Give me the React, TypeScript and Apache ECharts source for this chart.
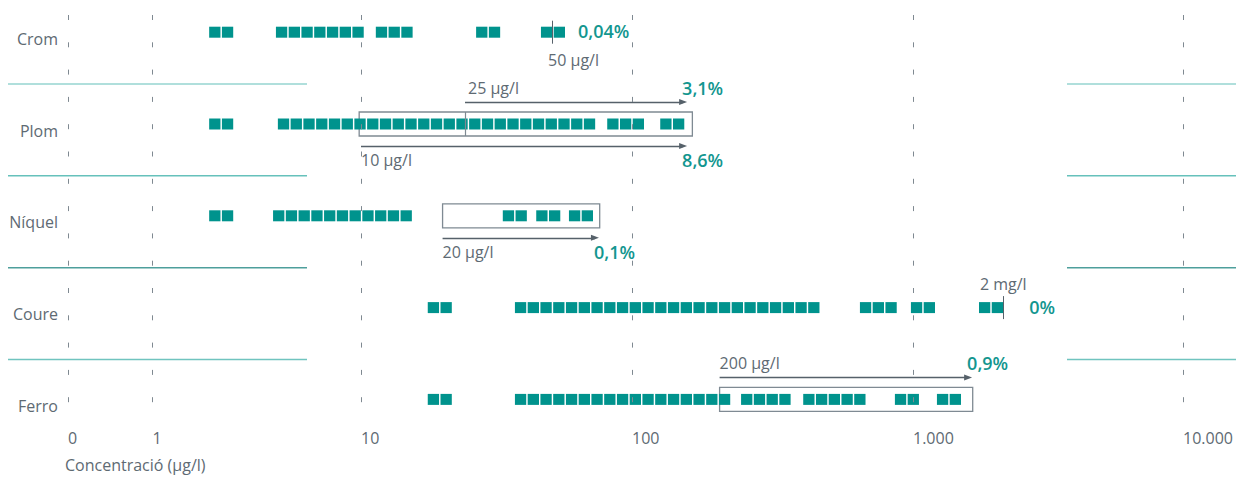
import React, { useEffect, useRef } from 'react';
import * as echarts from 'echarts';

// ---------- data ----------
const ROWS = ['Crom', 'Plom', 'Níquel', 'Coure', 'Ferro'];
const TICK_VALUES = [0, 1, 10, 100, 1000, 10000];
const TICK_LABELS = ['0', '1', '10', '100', '1.000', '10.000'];
const X_TITLE = 'Concentració (µg/l)';

// runs of adjacent squares: [concentration of first square (µg/l), number of squares]
const CROM_RUNS = [[1.99, 2], [4.16, 7], [11.9, 3], [27.9, 2], [48.4, 2]];
const PLOM_RUNS = [[1.99, 2], [4.25, 25], [85, 3], [132, 2]];
const NIQUEL_RUNS = [[1.99, 2], [4.03, 11], [35, 2], [46.5, 2], [61.4, 2]];
const COURE_RUNS = [[18.5, 2], [38.8, 24], [678, 3], [1031, 2], [1842, 2]];
const FERRO_RUNS = [[18.5, 2], [38.8, 17], [256, 4], [426, 5], [903, 2], [1287, 2]];
const ALL_RUNS = [CROM_RUNS, PLOM_RUNS, NIQUEL_RUNS, COURE_RUNS, FERRO_RUNS];

// single limit markers
const MARKER_ROWS = [0, 3];
const MARKER_VALUES = [50.7, 2160];
const MARKER_LABELS = ['50 µg/l', '2 mg/l'];
const MARKER_PCTS = ['0,04%', '0%'];

// limit arrows
const ARROW_ROWS = [1, 1, 2, 4];
const ARROW_FROM = [24.2, 10, 20, 205];
const ARROW_TO = [152, 152, 73, 1600];
const ARROW_LABELS = ['25 µg/l', '10 µg/l', '20 µg/l', '200 µg/l'];
const ARROW_PCTS = ['3,1%', '8,6%', '0,1%', '0,9%'];

// boxes around exceeding samples
const BOX_ROWS = [1, 2, 4];
const BOX_FROM = [9.8, 20, 205];
const BOX_TO = [164, 76, 1664];
const DIVIDER_ROWS = [1];
const DIVIDER_VALUES = [24.2];

// ---------- layout / style ----------
const TICK_U = [0, 84.5, 293, 564, 845, 1115]; // tick positions on the piecewise-log scale
const X_MAX = 1168;
const GRID_TOP = 15;
const GRID_BOTTOM_PX = 424;
const Y_MIN = -0.1874;
const Y_MAX = 4.268;
const PX_PER_ROW = (GRID_BOTTOM_PX - GRID_TOP) / (Y_MAX - Y_MIN);
const PITCH = 12.75;
const SQUARE: [number, number] = [11.3, 11];
const ARROW_SIDE = [-1, 1, 1, -1];
const MARKER_LABEL_MODE = ['below', 'above'];

const FONT = "'Open Sans', 'Noto Sans', sans-serif";
const TEAL = '#00938d';
const PCT_COLOR = '#13968f';
const GRAY_TEXT = '#5e6a73';
const DASH_COLOR = '#7f8991';
const BOX_COLOR = '#7f8a93';
const ARROW_COLOR = '#56616a';
const SEP_COLORS = ['#96d5d1', '#66c1bb', '#4e9f9c', '#70c4bf'];

function toU(c: number): number {
  if (c <= TICK_VALUES[1]) return (c / TICK_VALUES[1]) * TICK_U[1];
  let k = 1;
  while (k < TICK_VALUES.length - 2 && c > TICK_VALUES[k + 1]) k++;
  const a = Math.log10(TICK_VALUES[k]);
  const b = Math.log10(TICK_VALUES[k + 1]);
  return TICK_U[k] + ((TICK_U[k + 1] - TICK_U[k]) * (Math.log10(c) - a)) / (b - a);
}
const rows = (px: number) => px / PX_PER_ROW;

export default function App() {
  const ref = useRef<HTMLDivElement>(null);
  useEffect(() => {
    document.body.style.margin = '0';
    const chart = echarts.init(ref.current!, null, { renderer: 'svg' });

    const series: any[] = ALL_RUNS.map((runs, r) => {
      const data: number[][] = [];
      runs.forEach(([start, n]) => {
        for (let j = 0; j < n; j++) data.push([toU(start) + j * PITCH, r]);
      });
      const lines: any[] = [];
      const areas: any[] = [];
      if (r === 0) {
        TICK_VALUES.forEach((t) =>
          lines.push({
            xAxis: toU(t),
            lineStyle: { color: DASH_COLOR, width: 1, type: [5, 22.3] },
          })
        );
      }
      MARKER_ROWS.forEach((mr, i) => {
        if (mr !== r) return;
        const u = toU(MARKER_VALUES[i]);
        lines.push([
          { coord: [u, r - rows(11.5)], symbol: 'none', lineStyle: { color: ARROW_COLOR, width: 1, type: 'solid' } },
          { coord: [u, r + rows(11.5)], symbol: 'none' },
        ]);
      });
      DIVIDER_ROWS.forEach((dr, i) => {
        if (dr !== r) return;
        const u = toU(DIVIDER_VALUES[i]);
        lines.push([
          { coord: [u, r - rows(12)], symbol: 'none', lineStyle: { color: BOX_COLOR, width: 1.2, type: 'solid' } },
          { coord: [u, r + rows(12)], symbol: 'none' },
        ]);
      });
      ARROW_ROWS.forEach((ar, i) => {
        if (ar !== r) return;
        const y = r + ARROW_SIDE[i] * rows(22);
        lines.push([
          { coord: [toU(ARROW_FROM[i]), y], symbol: 'none', lineStyle: { color: ARROW_COLOR, width: 1.3, type: 'solid' } },
          { coord: [toU(ARROW_TO[i]), y], symbol: 'triangle', symbolSize: [6, 8] },
        ]);
      });
      BOX_ROWS.forEach((br, i) => {
        if (br !== r) return;
        areas.push([
          { coord: [toU(BOX_FROM[i]), r - rows(12)] },
          { coord: [toU(BOX_TO[i]), r + rows(12)] },
        ]);
      });
      return {
        type: 'scatter',
        name: ROWS[r],
        data,
        symbol: 'rect',
        symbolSize: SQUARE,
        itemStyle: { color: TEAL, opacity: 1 },
        silent: true,
        markLine: {
          silent: true,
          symbol: 'none',
          label: { show: false },
          emphasis: { disabled: true },
          itemStyle: { color: ARROW_COLOR },
          data: lines,
        },
        markArea: {
          silent: true,
          label: { show: false },
          itemStyle: { color: 'rgba(0,0,0,0)', borderColor: BOX_COLOR, borderWidth: 1.3 },
          emphasis: { disabled: true },
          data: areas,
        },
      };
    });

    chart.setOption({
      animation: false,
      grid: { left: 68, right: 0, top: GRID_TOP, bottom: 478 - GRID_BOTTOM_PX, containLabel: false },
      xAxis: {
        type: 'value',
        min: 0,
        max: X_MAX,
        axisLine: { show: false },
        axisTick: { show: false },
        splitLine: { show: false },
        axisLabel: {
          customValues: TICK_VALUES.map(toU),
          formatter: (v: number) => {
            let best = 0;
            TICK_VALUES.forEach((t, i) => {
              if (Math.abs(toU(t) - v) < Math.abs(toU(TICK_VALUES[best]) - v)) best = i;
            });
            return TICK_LABELS[best];
          },
          align: 'left',
          margin: 6,
          fontSize: 16,
          lineHeight: 16,
          fontFamily: FONT,
          color: GRAY_TEXT,
        },
      },
      yAxis: {
        type: 'value',
        inverse: true,
        min: Y_MIN,
        max: Y_MAX,
        axisLine: { show: false },
        axisTick: { show: false },
        splitLine: { show: false },
        axisLabel: {
          customValues: ROWS.map((_, i) => i),
          formatter: (v: number) => ROWS[Math.round(v)] ?? '',
          margin: 10,
          verticalAlign: 'top',
          lineHeight: 13,
          fontSize: 16,
          fontFamily: FONT,
          color: GRAY_TEXT,
        },
      },
      series,
    });

    const toPx = (c: number, y: number) =>
      chart.convertToPixel({ gridIndex: 0 } as any, [toU(c), y]) as number[];
    const text = (str: string, x: number, y: number, color: string, size: number, weight: any, align = 'left') => ({
      type: 'text',
      x,
      y,
      silent: true,
      style: {
        text: str,
        fill: color,
        fontSize: size,
        fontWeight: weight,
        fontFamily: FONT,
        textAlign: align,
        textVerticalAlign: 'middle',
        align,
        verticalAlign: 'middle',
      },
    });

    const graphics: any[] = [];
    MARKER_ROWS.forEach((r, i) => {
      const [x, y] = toPx(MARKER_VALUES[i], r);
      if (MARKER_LABEL_MODE[i] === 'below') graphics.push(text(MARKER_LABELS[i], x - 4, y + 28, GRAY_TEXT, 16, 'normal'));
      else graphics.push(text(MARKER_LABELS[i], x, y - 24, GRAY_TEXT, 16, 'normal', 'center'));
      graphics.push(text(MARKER_PCTS[i], x + 26, y - 1, PCT_COLOR, 18, 600));
    });
    ARROW_ROWS.forEach((r, i) => {
      const ay = r + ARROW_SIDE[i] * rows(22);
      const [x1, y1] = toPx(ARROW_FROM[i], ay);
      const [x2] = toPx(ARROW_TO[i], ay);
      const ty = y1 + ARROW_SIDE[i] * 14;
      graphics.push(text(ARROW_LABELS[i], x1 + (i === 0 ? 3 : 0), ty, GRAY_TEXT, 16, 'normal'));
      graphics.push(text(ARROW_PCTS[i], x2 - 1, ty, PCT_COLOR, 18, 600));
    });
    for (let i = 0; i < ROWS.length - 1; i++) {
      const [, y] = toPx(1, i + 0.565);
      graphics.push({
        type: 'line',
        silent: true,
        shape: { x1: 8, y1: y, x2: 307, y2: y },
        style: { stroke: SEP_COLORS[i], lineWidth: 1.5 },
      });
      graphics.push({
        type: 'line',
        silent: true,
        shape: { x1: 1067, y1: y, x2: 1236, y2: y },
        style: { stroke: SEP_COLORS[i], lineWidth: 1.5 },
      });
    }
    graphics.push(text(X_TITLE, 65, 465, GRAY_TEXT, 16, 'normal'));
    chart.setOption({ graphic: graphics });

    return () => chart.dispose();
  }, []);
  return <div ref={ref} style={{ width: 1236, height: 478 }} />;
}
